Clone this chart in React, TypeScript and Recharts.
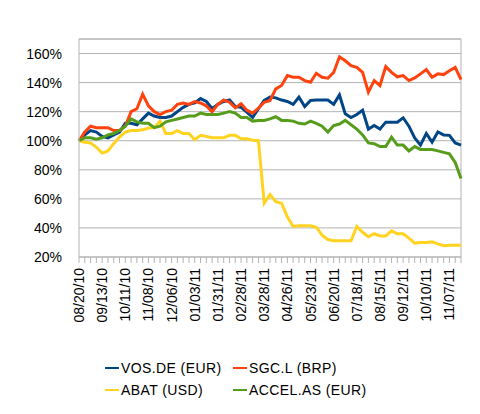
import React from "react";
import {
  LineChart,
  Line,
  XAxis,
  YAxis,
  CartesianGrid,
  Legend,
  ReferenceLine,
} from "recharts";

const dates = [
  "08/20/10", "08/23/10", "08/30/10", "09/06/10", "09/13/10", "09/20/10", "09/27/10", "10/04/10",
  "10/11/10", "10/18/10", "10/25/10", "11/01/10", "11/08/10", "11/15/10", "11/22/10", "11/29/10",
  "12/06/10", "12/13/10", "12/20/10", "12/27/10", "01/03/11", "01/10/11", "01/17/11", "01/24/11",
  "01/31/11", "02/07/11", "02/14/11", "02/21/11", "02/28/11", "03/07/11", "03/14/11", "03/21/11",
  "03/28/11", "04/04/11", "04/11/11", "04/18/11", "04/26/11", "05/02/11", "05/09/11", "05/16/11",
  "05/23/11", "05/30/11", "06/06/11", "06/13/11", "06/20/11", "06/27/11", "07/04/11", "07/11/11",
  "07/18/11", "07/25/11", "08/01/11", "08/08/11", "08/15/11", "08/22/11", "08/29/11", "09/05/11",
  "09/12/11", "09/19/11", "09/26/11", "10/03/11", "10/10/11", "10/17/11", "10/24/11", "10/31/11",
  "11/07/11", "11/14/11", "11/21/11",
];

const seriesNames = ["VOS.DE (EUR)", "SGC.L (BRP)", "ABAT (USD)", "ACCEL.AS (EUR)"];

// values in % of the 08/20/10 price
const vosDe = [
  100, 104, 107, 106, 103, 102, 104, 106, 112, 112,
  111, 115, 119, 117, 116, 116, 117, 120, 123, 125,
  126, 129, 127, 122, 125, 127, 128, 123.5, 123, 119.7,
  116, 122, 127.7, 130, 129.5, 128, 127, 125, 130, 123.5,
  127.7, 128, 128, 128, 125, 131.5, 118.5, 116, 118, 121,
  108, 110.5, 108, 112.8, 112.8, 112.8, 115.8, 110, 102, 97,
  105, 99, 106, 104, 103.7, 98.5, 97,
];

const sgcL = [
  100, 106, 110, 109, 109, 109, 107, 107, 110, 120,
  122, 132, 124, 120, 118, 120, 121, 125, 126, 125,
  127, 126, 124, 120, 125, 128, 126.5, 122.6, 125.4, 121,
  119, 122.4, 126.5, 127.7, 135.7, 138, 144.8, 143.7, 143.7, 141.4,
  140.2, 146.4, 143.7, 143, 147, 157.8, 155, 151.7, 150.5, 147,
  133.4, 141.4, 138, 151, 147, 144, 144.8, 141.4, 143.2, 146,
  149, 143.7, 146, 145.5, 148.2, 150.5, 142,
];

const abat = [
  100, 99, 98.5, 95.5, 91.5, 93, 98, 102.5, 106, 107,
  107, 107.5, 108.7, 109, 113.5, 105, 105, 107, 105, 105,
  100.7, 103.7, 103, 102, 102, 102, 103.7, 103.7, 101.4, 101.4,
  100.3, 100, 57, 63, 58, 57, 47.6, 41, 41.5, 41.5,
  41.5, 40.5, 35, 32, 31.2, 31.2, 31.2, 31.2, 41, 37,
  34, 36, 34.5, 34.5, 38, 36, 36, 33, 29.5, 30,
  30, 30.5, 29, 27.8, 28, 28, 28,
];

const accelAs = [
  100, 102, 102, 101, 102, 104, 105, 107, 110, 115,
  113, 112, 112, 109, 110, 113, 114, 115, 116, 117,
  117, 119, 118, 118, 118, 119, 120, 119, 116, 116,
  113.5, 114, 114, 115, 116.5, 114, 114, 113.5, 112, 111.5,
  113.5, 112, 110, 106, 110.5, 111.5, 114, 111, 108, 104,
  98.5, 98, 96, 96, 102.5, 97, 97, 93, 96, 94,
  94, 94, 93, 92, 91, 85, 74,
];

const yTicks = [20, 40, 60, 80, 100, 120, 140, 160];

const data = dates.map((date, i) => ({
  date,
  vos: vosDe[i],
  sgc: sgcL[i],
  abat: abat[i],
  accel: accelAs[i],
}));

const GRID = "#b3b3b3";

// only every 4th week gets a label, but every week keeps its tick mark
const DateTick = (props: any) => {
  const { x, y, payload, index } = props;
  if (index % 4 !== 0) return null;
  return (
    <text
      x={0}
      y={0}
      transform={`translate(${x + 5},${y + 5}) rotate(-90)`}
      textAnchor="end"
      fontSize={14}
      fill="#000"
    >
      {payload.value}
    </text>
  );
};

const renderLegend = (props: any) => {
  // keep series order, recharts sorts the payload by name
  const items = [...(props.payload || [])].sort(
    (a: any, b: any) => seriesNames.indexOf(a.value) - seriesNames.indexOf(b.value)
  );
  return (
    <div
      style={{
        paddingTop: 30,
        paddingLeft: 105,
        display: "grid",
        gridTemplateColumns: "128px 170px",
        fontSize: 14,
        color: "#000",
      }}
    >
      {items.map((entry: any) => (
        <div key={entry.value} style={{ display: "flex", alignItems: "center", height: 22 }}>
          <span style={{ width: 14, height: 2, background: entry.color, marginRight: 2 }} />
          <span style={{ letterSpacing: 0.4 }}>{entry.value}</span>
        </div>
      ))}
    </div>
  );
};

export default function App() {
  return (
    <div style={{ position: "absolute", left: 0, top: 0, fontFamily: "'Liberation Sans', Arial, sans-serif" }}>
      <LineChart
        width={480}
        height={414}
        data={data}
        margin={{ top: 39, right: 19, left: 0, bottom: 13 }}
      >
        <CartesianGrid stroke={GRID} vertical={false} />
        <XAxis
          dataKey="date"
          interval={0}
          tick={<DateTick />}
          tickSize={6}
          tickMargin={0}
          height={70}
          stroke={GRID}
        />
        <YAxis
          domain={[20, 170]}
          ticks={yTicks}
          tickFormatter={(v: number) => `${v}%`}
          tick={{ fontSize: 14, fill: "#000" }}
          tickLine={false}
          tickMargin={11}
          width={79}
          stroke={GRID}
          allowDataOverflow
        />
        <ReferenceLine y={170} stroke={GRID} />
        <ReferenceLine x={dates[dates.length - 1]} stroke={GRID} />
        <Legend verticalAlign="bottom" content={renderLegend} wrapperStyle={{ left: 0, width: 480 }} />
        <Line dataKey="vos" name={seriesNames[0]} stroke="#004586" strokeWidth={3} dot={false} isAnimationActive={false} />
        <Line dataKey="sgc" name={seriesNames[1]} stroke="#ff420e" strokeWidth={3} dot={false} isAnimationActive={false} />
        <Line dataKey="abat" name={seriesNames[2]} stroke="#ffd320" strokeWidth={3} dot={false} isAnimationActive={false} />
        <Line dataKey="accel" name={seriesNames[3]} stroke="#579d1c" strokeWidth={3} dot={false} isAnimationActive={false} />
      </LineChart>
    </div>
  );
}
